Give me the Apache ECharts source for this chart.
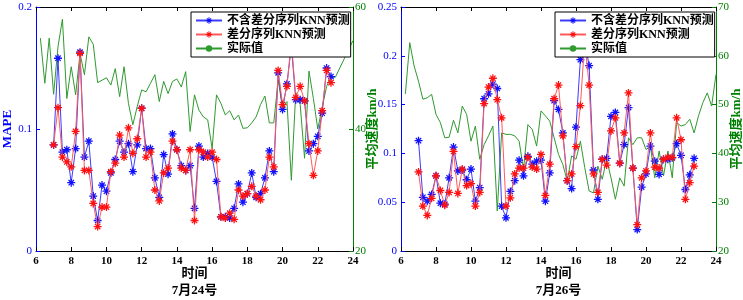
<!DOCTYPE html>
<html>
<head>
<meta charset="utf-8">
<script src="https://cdn.jsdelivr.net/npm/echarts@6/dist/echarts.min.js"></script>
<style>
html, body { margin: 0; padding: 0; background: #fff; }
#main { width: 743px; height: 300px; }
</style>
</head>
<body>
<div id="main"></div>
<script>
// 预测点时间（小时）
var predTimes = [7, 7.25, 7.5, 7.75, 8, 8.25, 8.5, 8.75, 9, 9.25, 9.5, 9.75,
    10, 10.25, 10.5, 10.75, 11, 11.25, 11.5, 11.75, 12, 12.25, 12.5, 12.75,
    13, 13.25, 13.5, 13.75, 14, 14.25, 14.5, 14.75, 15, 15.25, 15.5, 15.75,
    16, 16.25, 16.5, 16.75, 17, 17.25, 17.5, 17.75, 18, 18.25, 18.5, 18.75,
    19, 19.25, 19.5, 19.75, 20, 20.25, 20.5, 20.75, 21, 21.25, 21.5, 21.75,
    22, 22.25, 22.5, 22.75];
// 实际速度时间（小时）
var speedTimes = [6.25, 6.5, 6.75, 7, 7.25, 7.5, 7.75, 8, 8.25, 8.5, 8.75, 9,
    9.25, 9.5, 9.75, 10, 10.25, 10.5, 10.75, 11, 11.25, 11.5, 11.75, 12,
    12.25, 12.5, 12.75, 13, 13.25, 13.5, 13.75, 14, 14.25, 14.5, 14.75, 15,
    15.25, 15.5, 15.75, 16, 16.25, 16.5, 16.75, 17, 17.25, 17.5, 17.75, 18,
    18.25, 18.5, 18.75, 19, 19.25, 19.5, 19.75, 20, 20.25, 20.5, 20.75, 21,
    21.25, 21.5, 21.75, 22, 22.25, 22.5, 22.75, 23, 23.25, 23.5, 23.75, 24];

// 7月24号
var knn24 = [0.087, 0.158, 0.081, 0.083, 0.056, 0.084, 0.163, 0.077, 0.090, 0.045, 0.025, 0.054,
    0.049, 0.064, 0.075, 0.090, 0.081, 0.088, 0.065, 0.087, 0.117, 0.084, 0.084, 0.060,
    0.044, 0.079, 0.063, 0.096, 0.083, 0.070, 0.066, 0.070, 0.035, 0.086, 0.077, 0.080,
    0.077, 0.057, 0.028, 0.028, 0.027, 0.035, 0.055, 0.040, 0.047, 0.064, 0.044, 0.047,
    0.060, 0.082, 0.065, 0.146, 0.116, 0.137, 0.168, 0.124, 0.124, 0.123, 0.082, 0.088,
    0.094, 0.113, 0.150, 0.143];
var diff24 = [0.087, 0.1175, 0.077, 0.073, 0.069, 0.098, 0.162, 0.066, 0.066, 0.039, 0.020, 0.036,
    0.036, 0.065, 0.072, 0.095, 0.077, 0.101, 0.080, 0.092, 0.117, 0.077, 0.081, 0.050,
    0.041, 0.064, 0.068, 0.090, 0.083, 0.068, 0.066, 0.083, 0.025, 0.083, 0.081, 0.077,
    0.081, 0.075, 0.028, 0.027, 0.031, 0.026, 0.050, 0.045, 0.047, 0.053, 0.045, 0.042,
    0.050, 0.077, 0.069, 0.148, 0.120, 0.135, 0.172, 0.126, 0.135, 0.123, 0.088, 0.062,
    0.082, 0.115, 0.148, 0.138];
var speed24 = [54.9, 47.5, 54.9, 45.7, 53.5, 58.0, 45.0, 50.2, 45.6, 52.4, 48.9, 55.1,
    53.9, 47.6, 48.0, 48.4, 47.2, 49.9, 45.3, 50.2, 44.2, 40.7, 43.7, 46.4,
    46.1, 47.5, 48.9, 44.5, 47.8, 45.8, 47.8, 48.2, 46.9, 49.4, 39.6, 45.6,
    43.1, 42.0, 41.5, 36.8, 45.6, 44.2, 42.3, 43.0, 41.5, 42.3, 40.1, 40.2,
    41.0, 42.0, 44.0, 45.4, 41.0, 41.0, 48.0, 43.5, 44.5, 31.6, 46.0, 44.0,
    35.2, 49.5, 45.0, 40.0, 43.5, 47.0, 48.5, 48.5, 50.0, 51.5, 53.0, 54.5];

// 7月26号
var knn26 = [0.113, 0.055, 0.051, 0.058, 0.077, 0.049, 0.048, 0.075, 0.1065, 0.082, 0.083, 0.073,
    0.084, 0.051, 0.065, 0.156, 0.161, 0.171, 0.1665, 0.046, 0.034, 0.061, 0.072, 0.093,
    0.077, 0.097, 0.089, 0.092, 0.093, 0.051, 0.080, 0.154, 0.145, 0.121, 0.072, 0.064,
    0.127, 0.196, 0.215, 0.190, 0.083, 0.053, 0.094, 0.095, 0.138, 0.142, 0.090, 0.109,
    0.147, 0.085, 0.022, 0.0655, 0.079, 0.1075, 0.092, 0.0785, 0.094, 0.094, 0.0955, 0.110,
    0.098, 0.063, 0.078, 0.095];
var diff26 = [0.081, 0.046, 0.0365, 0.054, 0.077, 0.062, 0.047, 0.060, 0.102, 0.059, 0.084, 0.067,
    0.069, 0.046, 0.060, 0.151, 0.168, 0.177, 0.155, 0.1365, 0.046, 0.0545, 0.079, 0.085,
    0.085, 0.096, 0.086, 0.084, 0.099, 0.057, 0.089, 0.156, 0.170, 0.118, 0.072, 0.079,
    0.107, 0.149, 0.215, 0.170, 0.079, 0.060, 0.094, 0.088, 0.123, 0.1365, 0.090, 0.121,
    0.162, 0.085, 0.027, 0.075, 0.082, 0.121, 0.086, 0.085, 0.094, 0.096, 0.096, 0.1365,
    0.114, 0.053, 0.070, 0.087];
var speed26 = [52.2, 62.7, 57.9, 54.8, 51.1, 51.4, 52.1, 48.0, 46.3, 43.2, 43.3, 46.8,
    44.2, 49.7, 48.0, 42.5, 45.6, 38.8, 41.8, 43.6, 45.6, 28.2, 44.2, 43.9,
    43.9, 43.6, 42.5, 36.7, 45.9, 44.9, 41.5, 48.7, 47.7, 46.6, 43.2, 39.8,
    37.7, 34.3, 39.5, 38.8, 42.5, 37.1, 32.3, 31.9, 37.4, 34.7, 38.8, 35.0,
    30.6, 35.0, 33.3, 43.2, 41.8, 43.2, 43.2, 40.8, 41.5, 35.0, 40.5, 35.4,
    40.5, 35.0, 46.3, 45.6, 45.9, 47.0, 44.2, 47.7, 50.4, 52.4, 49.7, 56.2];

var nameKnn = '不含差分序列KNN预测';
var nameDiff = '差分序列KNN预测';
var nameReal = '实际值';

function pairs(xs, ys) {
    var out = [];
    for (var i = 0; i < ys.length; i++) out.push([xs[i], ys[i]]);
    return out;
}

// 星号标记
var star = 'path://M0,4.2L10,4.2L10,5.8L0,5.8Z M4.2,0L5.8,0L5.8,10L4.2,10Z ' +
    'M1.1,2.2L2.2,1.1L8.9,7.8L7.8,8.9Z M7.8,1.1L8.9,2.2L2.2,8.9L1.1,7.8Z';

var serif = "'Liberation Serif', 'Noto Sans CJK SC', serif";
var blue = '#0000ff';
var green = '#008000';

function bottomX(grid, title) {
    return {
        type: 'value', gridIndex: grid, min: 6, max: 24, interval: 2,
        position: 'bottom',
        axisLine: { lineStyle: { color: '#000', width: 1 } },
        axisTick: { inside: true, length: 4, lineStyle: { color: '#000' } },
        axisLabel: { color: '#000', fontFamily: serif, fontSize: 11, fontWeight: 'bold', margin: 5 },
        splitLine: { show: false },
        name: '时间\n' + title, nameLocation: 'middle', nameGap: 14, nameMoveOverlap: false,
        nameTextStyle: { color: '#000', fontFamily: serif, fontSize: 13, fontWeight: 'bold', lineHeight: 17 }
    };
}
function topX(grid) {
    return {
        type: 'value', gridIndex: grid, min: 6, max: 24, interval: 2,
        position: 'top',
        axisLine: { lineStyle: { color: '#000', width: 1 } },
        axisTick: { inside: true, length: 4, lineStyle: { color: '#000' } },
        axisLabel: { show: false },
        splitLine: { show: false }
    };
}
function leftY(grid, max, step, name) {
    return {
        type: 'value', gridIndex: grid, position: 'left', min: 0, max: max, interval: step,
        axisLine: { show: true, lineStyle: { color: blue, width: 1 } },
        axisTick: { show: true, inside: true, length: 4, lineStyle: { color: blue } },
        axisLabel: { color: blue, fontFamily: serif, fontSize: 11, margin: 4 },
        splitLine: { show: false },
        name: name, nameLocation: 'middle', nameRotate: 90, nameGap: 22,
        nameTextStyle: { color: blue, fontFamily: serif, fontSize: 13, fontWeight: 'bold' }
    };
}
function rightY(grid, max, step, gap) {
    return {
        type: 'value', gridIndex: grid, position: 'right', min: 20, max: max, interval: step,
        axisLine: { show: true, lineStyle: { color: green, width: 1 } },
        axisTick: { show: true, inside: true, length: 4, lineStyle: { color: green } },
        axisLabel: { color: green, fontFamily: serif, fontSize: 11, margin: 2 },
        splitLine: { show: false },
        name: '平均速度km/h', nameLocation: 'middle', nameRotate: 90, nameGap: gap, nameMoveOverlap: false,
        nameTextStyle: { color: green, fontFamily: serif, fontSize: 13, fontWeight: 'bold' }
    };
}
function realSeries(xi, yi, data) {
    return {
        name: nameReal, type: 'line', xAxisIndex: xi, yAxisIndex: yi,
        data: pairs(speedTimes, data), symbol: 'none', z: 1,
        itemStyle: { color: '#2f9a2f' },
        lineStyle: { color: '#2f9a2f', width: 1 }
    };
}
function predSeries(name, xi, yi, data, dot, line, z) {
    return {
        name: name, type: 'line', xAxisIndex: xi, yAxisIndex: yi,
        data: pairs(predTimes, data), symbol: star, symbolSize: 8, z: z,
        itemStyle: { color: dot },
        lineStyle: { color: line, width: 1 }
    };
}
function legendAt(left) {
    return {
        orient: 'vertical', left: left, top: 12,
        data: [nameKnn, nameDiff, nameReal],
        backgroundColor: '#fff', borderColor: '#000', borderWidth: 1, borderRadius: 0,
        padding: [2, 1, 2, 4], itemGap: 1, itemWidth: 26, itemHeight: 8,
        selectedMode: false,
        textStyle: { color: '#000', fontFamily: serif, fontSize: 12, fontWeight: 'bold', lineHeight: 13 }
    };
}

var myChart = echarts.init(document.getElementById('main'), null, { renderer: 'canvas' });
var option = {
    animation: false,
    backgroundColor: '#fff',
    grid: [
        { left: 36, top: 7, width: 317, height: 244, outerBoundsMode: 'none', containLabel: false },
        { left: 401, top: 7, width: 315, height: 244, outerBoundsMode: 'none', containLabel: false }
    ],
    legend: [legendAt(191), legendAt(555)],
    xAxis: [bottomX(0, '7月24号'), topX(0), bottomX(1, '7月26号'), topX(1)],
    yAxis: [leftY(0, 0.2, 0.1, 'MAPE'), rightY(0, 60, 20, 13), leftY(1, 0.25, 0.05, ''), rightY(1, 70, 10, 14)],
    series: [
        realSeries(0, 1, speed24),
        predSeries(nameKnn, 0, 0, knn24, '#1010ff', '#3c3cff', 2),
        predSeries(nameDiff, 0, 0, diff24, '#ff1010', '#ff5a5a', 3),
        realSeries(2, 3, speed26),
        predSeries(nameKnn, 2, 2, knn26, '#1010ff', '#3c3cff', 2),
        predSeries(nameDiff, 2, 2, diff26, '#ff1010', '#ff5a5a', 3)
    ]
};
myChart.setOption(option);
window.addEventListener('resize', function () {
    myChart.resize();
});
</script>
</body>
</html>
